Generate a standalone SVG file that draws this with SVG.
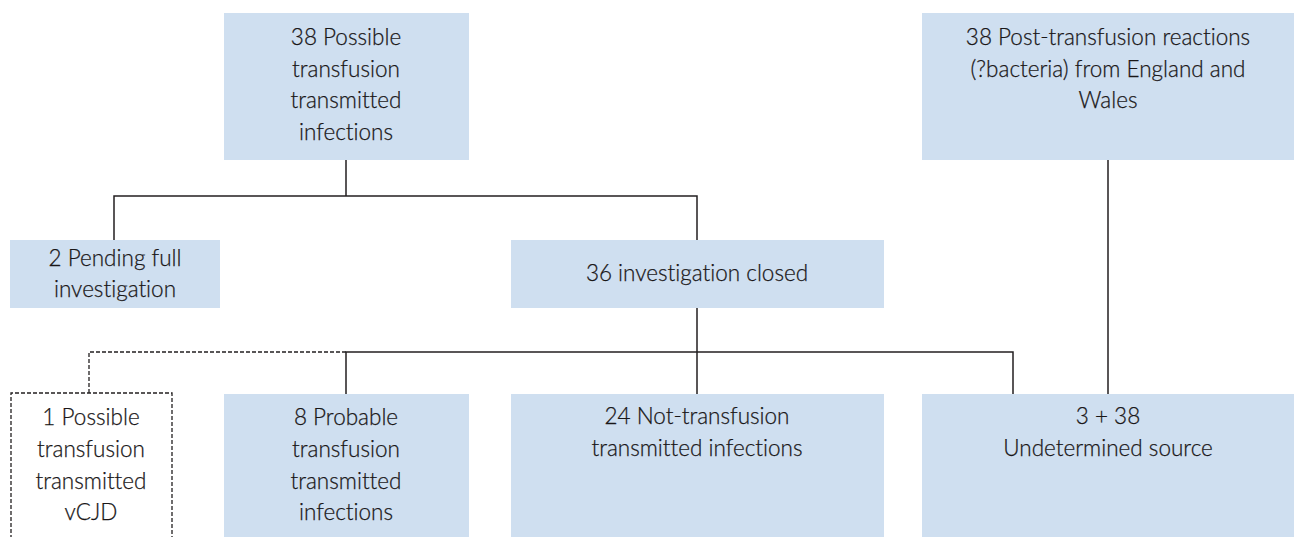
<svg xmlns="http://www.w3.org/2000/svg" width="1294" height="537" viewBox="0 0 1294 537">
<style>
.box{fill:#cfdff0;}
.dbox{fill:none;stroke:#231f20;stroke-width:1.3;stroke-dasharray:4,2;}
.t{font-family:Lato,"Open Sans",sans-serif;font-size:22.5px;font-weight:300;fill:#1a1718;stroke:#1a1718;stroke-width:0.25;text-anchor:middle;font-variant-ligatures:none;}
.ln{fill:none;stroke:#231f20;stroke-width:1.5;}
.dl{fill:none;stroke:#231f20;stroke-width:1.3;stroke-dasharray:4,2;}
</style>
<rect width="1294" height="537" fill="#fff"/>
<g id="connectors">
<path class="ln" d="M346 160V196M114 240V196H697V240M697 308V352M346 394V352H1013V394M697 352V394M1108 160V394"/>
<path class="dl" d="M346 352H89V393"/>
</g>
<g id="n1">
<rect class="box" x="224" y="13" width="245" height="147"/>
<text class="t" x="346" y="45">38 Possible</text>
<text class="t" x="346" y="77">transfusion</text>
<text class="t" x="346" y="108">transmitted</text>
<text class="t" x="346" y="140">infections</text>
</g>
<g id="n2">
<rect class="box" x="922" y="13" width="372" height="147"/>
<text class="t" x="1108" y="45">38 Post-transfusion reactions</text>
<text class="t" x="1108" y="77">(?bacteria) from England and</text>
<text class="t" x="1108" y="108">Wales</text>
</g>
<g id="n3">
<rect class="box" x="10" y="240" width="210" height="68"/>
<text class="t" x="115" y="266">2 Pending full</text>
<text class="t" x="115" y="297">investigation</text>
</g>
<g id="n4">
<rect class="box" x="511" y="240" width="373" height="68"/>
<text class="t" x="697" y="281">36 investigation closed</text>
</g>
<g id="n5">
<path class="dbox" d="M11 545V393H172V545"/>
<text class="t" x="91" y="425">1 Possible</text>
<text class="t" x="91" y="457">transfusion</text>
<text class="t" x="91" y="489">transmitted</text>
<text class="t" x="91" y="520">vCJD</text>
</g>
<g id="n6">
<rect class="box" x="224" y="394" width="245" height="150"/>
<text class="t" x="346" y="425">8 Probable</text>
<text class="t" x="346" y="457">transfusion</text>
<text class="t" x="346" y="489">transmitted</text>
<text class="t" x="346" y="520">infections</text>
</g>
<g id="n7">
<rect class="box" x="511" y="394" width="373" height="150"/>
<text class="t" x="697" y="424">24 Not-transfusion</text>
<text class="t" x="697" y="456">transmitted infections</text>
</g>
<g id="n8">
<rect class="box" x="922" y="394" width="372" height="150"/>
<text class="t" x="1108" y="424">3 + 38</text>
<text class="t" x="1108" y="456">Undetermined source</text>
</g>
</svg>
